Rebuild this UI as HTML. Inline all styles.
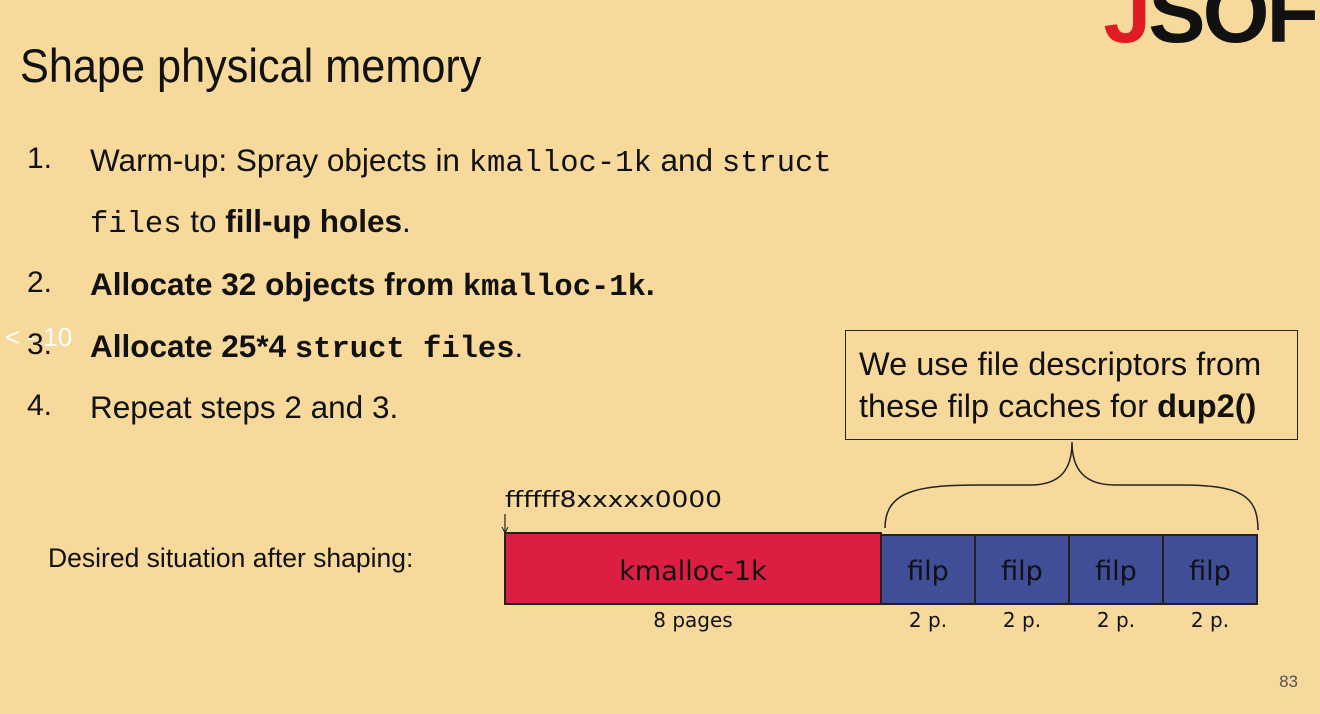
<!DOCTYPE html>
<html><head><style>
body{margin:0;width:1320px;height:714px;background:#f7da9b;position:relative;overflow:hidden;font-family:"Liberation Sans",sans-serif;color:#111}
.a{position:absolute;white-space:nowrap}
.t{font-size:47px;left:20px;top:38px;transform:scaleX(0.92);transform-origin:left top}
.li{font-size:31.5px;left:90px}
.n{font-size:30px;left:27px}
code{font-family:"Liberation Mono",monospace;font-size:30.5px}
b code{font-weight:bold}
.box{position:absolute;left:845px;top:330px;width:453px;height:110px;border:1.5px solid #222;box-sizing:border-box;font-size:32.5px;line-height:42px;padding:12px 0 0 13px}
.hand{font-family:"DejaVu Sans",sans-serif}
</style></head><body>
<div class="a t">Shape physical memory</div>
<div class="a" style="right:4px;top:-36px;font-size:86px;font-weight:bold;letter-spacing:-3px"><span style="color:#e01b24">J</span>SOF</div>
<div class="a n" style="top:142px">1.</div>
<div class="a li" style="top:142px">Warm-up: Spray objects in <code>kmalloc-1k</code> and <code>struct</code></div>
<div class="a li" style="top:203px"><code>files</code> to <b>fill-up holes</b>.</div>
<div class="a n" style="top:266px">2.</div>
<div class="a li" style="top:266px"><b>Allocate 32 objects from <code>kmalloc-1k</code>.</b></div>
<div class="a n" style="top:328px">3.</div>
<div class="a li" style="top:328px"><b>Allocate 25*4 <code>struct files</code></b>.</div>
<div class="a n" style="top:389px">4.</div>
<div class="a li" style="top:389px">Repeat steps 2 and 3.</div>
<div class="a" style="left:5px;top:322px;font-size:26px;color:#fff">&lt; - 10</div>
<div class="box">We use file descriptors from<br>these filp caches for <b>dup2()</b></div>
<div class="a" style="left:48px;top:543px;font-size:26.5px">Desired situation after shaping:</div>
<div class="a" style="right:22px;top:672px;font-size:17px;color:#555">83</div>
<svg class="a" style="left:0;top:0" width="1320" height="714">
<path d="M885,528 C885,490 920,485 980,485 L1030,485 C1060,485 1072,470 1072,442 C1072,470 1085,485 1115,485 L1180,485 C1240,485 1258,495 1258,530" fill="none" stroke="#222" stroke-width="1.5"/>
<line x1="505" y1="514" x2="505" y2="532" stroke="#222" stroke-width="1.2"/>
<path d="M502,527 L505,533 L508,527" fill="none" stroke="#222"/>
<rect x="505" y="533" width="376" height="71" fill="#dc1e42" stroke="#222" stroke-width="2"/>
<g fill="#3f4e97" stroke="#222" stroke-width="2">
<rect x="881" y="535" width="94" height="69"/><rect x="975" y="535" width="94" height="69"/>
<rect x="1069" y="535" width="94" height="69"/><rect x="1163" y="535" width="94" height="69"/></g>
<g class="hand" font-size="27" fill="#111" text-anchor="middle">
<text x="693" y="580">kmalloc-1k</text>
<text x="928" y="580">filp</text><text x="1022" y="580">filp</text><text x="1116" y="580">filp</text><text x="1210" y="580">filp</text>
<g font-size="20"><text x="693" y="627">8 pages</text><text x="928" y="627">2 p.</text><text x="1022" y="627">2 p.</text><text x="1116" y="627">2 p.</text><text x="1210" y="627">2 p.</text></g>
<text x="505" y="507" font-size="22" text-anchor="start" textLength="217" lengthAdjust="spacingAndGlyphs">ffffff8xxxxx0000</text>
</g>
</svg>
</body></html>
